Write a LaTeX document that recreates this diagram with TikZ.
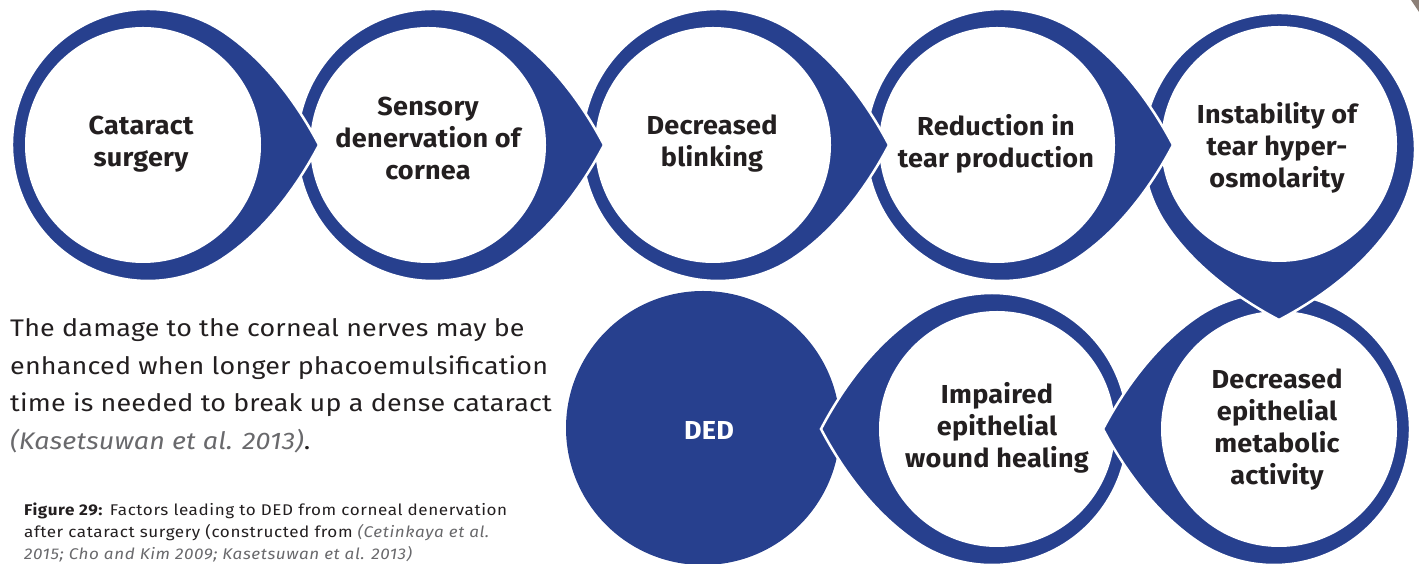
\documentclass[tikz,border=0pt]{standalone}
\usepackage{fontspec}
\setmainfont{Fira Sans}
\newfontfamily\lblfont[FakeStretch=1.04, LetterSpace=1]{Fira Sans}
\newfontfamily\bodyfont[FakeStretch=1.12, LetterSpace=0.8]{Fira Sans}
\newfontfamily\capfont[FakeStretch=1.1, LetterSpace=3.8]{Fira Sans}
\definecolor{navy}{RGB}{39,64,142}
\definecolor{ink}{RGB}{35,31,32}
\definecolor{citegray}{RGB}{105,105,108}
\definecolor{cornergray}{RGB}{140,128,120}
\tikzset{
  dropfill/.style={fill=navy, draw=white, line width=2.5pt},
  lbl/.style={align=center, text=ink, inner sep=0pt,
    font=\lblfont\bfseries\fontsize{26}{32}\selectfont},
  bodyline/.style={anchor=base west, inner sep=0pt, text=ink,
    font=\bodyfont\fontsize{24}{30}\selectfont},
  capline/.style={anchor=base west, inner sep=0pt, text=ink,
    font=\capfont\fontsize{15.5}{20}\selectfont},
}
\newcommand\tdrop[3]{%
  \begin{scope}[shift={(#1,#2)}, rotate=#3]
    \path[dropfill] (171,0) .. controls (150,40) and (119,83) .. (78,111.4)
      arc[start angle=55, end angle=305, radius=136]
      .. controls (119,-83) and (150,-40) .. (171,0) -- cycle;
    \fill[white] (-5,0) circle[radius=118];
  \end{scope}}
\begin{document}
\begin{tikzpicture}[x=1pt,y=1pt]
\useasboundingbox (0,0) rectangle (1419,564);
\fill[white] (0,0) rectangle (1419,564);
% corner fragment
\fill[cornergray] (1411,564) -- (1419,564) -- (1419,552) -- cycle;
% DED circle
\fill[navy] (703,136) circle[radius=137];
% drops, drawn back to front
\tdrop{992}{135}{180}
\tdrop{1274}{135}{180}
\tdrop{1279}{415}{-90}
\tdrop{1002}{419}{0}
\tdrop{718}{419}{0}
\tdrop{433}{419}{0}
\tdrop{148}{419}{0}
% labels
\node[lbl] (t1) at (141,420) {Cataract\\surgery};
\node[lbl] (t2) at (428,426) {Sensory\\denervation of\\cornea};
\node[lbl] (t3) at (712,420) {Decreased\\blinking};
\node[lbl] (t4) at (996,420) {Reduction in\\tear production};
\node[lbl] (t5) at (1277,416) {Instability of\\tear hyper-\\osmolarity};
\node[lbl] (t6) at (1277,134) {Decreased\\epithelial\\metabolic\\activity};
\node[lbl] (t7) at (997,136) {Impaired\\epithelial\\wound healing};
\node[lbl, text=white] (ded) at (709,134) {DED};
% body text
\node[bodyline] (b1) at (10,227) {The damage to the corneal nerves may be};
\node[bodyline] (b2) at (10,189.5) {enhanced when longer phacoemulsification};
\node[bodyline] (b3) at (10,152) {time is needed to break up a dense cataract};
\node[bodyline] (b4) at (10,114.5) {\textcolor{citegray}{\itshape(Kasetsuwan et al. 2013)}.};
% caption
\node[capline] (c1) at (24,48) {\textbf{Figure 29:} Factors leading to DED from corneal denervation};
\node[capline] (c2) at (24,26) {after cataract surgery (constructed from \textcolor{citegray}{\itshape(Cetinkaya et al.}};
\node[capline] (c3) at (24,4.5) {\textcolor{citegray}{\itshape 2015; Cho and Kim 2009; Kasetsuwan et al. 2013)}};
\end{tikzpicture}
\end{document}
